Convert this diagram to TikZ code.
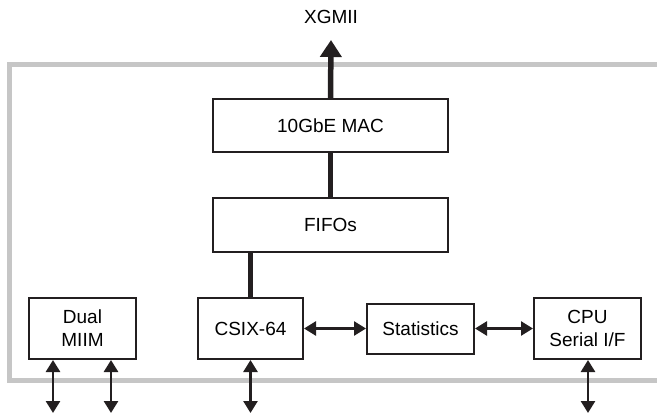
\documentclass[tikz,border=0pt]{standalone}
\usepackage{fontspec}
\setmainfont{Liberation Sans}
\usepackage{tikz}
\usetikzlibrary{arrows.meta,
                positioning,
                calc
                }
\definecolor{ink}{HTML}{231F20}
\definecolor{shell}{HTML}{C6C6C6}

\begin{document}
\begin{tikzpicture}[x=1pt, y=-1pt,
    font=\fontsize{19}{23}\selectfont,
       box/.style = {draw=ink, line width=2pt, fill=white, align=center,
                     inner sep=0pt, minimum width=#1},
       bus/.style = {draw=ink, line width=5.5pt},
        up/.style = {bus, -{Triangle[length=17pt,width=21pt]}},
       arr/.style = {draw=ink, line width=2.6pt,
                     {Triangle[length=12pt,width=14pt]}-{Triangle[length=12pt,width=14pt]}},
     frame/.style = {draw=shell, line width=5pt},
                    ]
    \useasboundingbox (0,0) rectangle (657,415);
    %% chip outline (runs off to the right)
    \draw[frame] (657,64) -| (9,380) -- (657,380);
    %% main column
    \node[box=235pt, minimum height=53pt] (mac)  at (330.5,125.5) {10GbE MAC};
    \node[box=235pt, minimum height=54pt] (fifo) at (330.5,225)   {FIFOs};
    %% bottom row
    \node[box=105pt, minimum height=61pt] (csix)  at (250.5,328.5) {CSIX-64};
    \node[box=107pt, minimum height=61pt] (miim)  at (82.5,328.5)  {Dual\\MIIM};
    \node[box=107pt, minimum height=50pt] (stats) at (420.5,328.5) {Statistics};
    \node[box=107pt, minimum height=61pt] (cpu)   at (587.5,328.5) {CPU\\Serial I/F};
    %% external pins
    \coordinate (top)   at (331,40);
    \node[above=13pt of top] (xgmii) {XGMII};
    \coordinate (miimA) at (53,413);
    \coordinate (miimB) at (111,413);
    \coordinate (csixP) at (250.5,413);
    \coordinate (cpuP)  at (588,413);
    %% wide paths
    \draw[up]  (mac.north) -- (top);
    \draw[bus] (mac) -- (fifo);
    \draw[bus] (fifo.south -| csix) -- (csix.north);
    %% side links
    \draw[arr] (csix.east) -- (stats.west);
    \draw[arr] (stats.east) -- (cpu.west);
    \draw[arr] (miimA |- miim.south) -- (miimA);
    \draw[arr] (miimB |- miim.south) -- (miimB);
    \draw[arr] (csix.south) -- (csixP);
    \draw[arr] (cpuP |- cpu.south) -- (cpuP);
\end{tikzpicture}
\end{document}
